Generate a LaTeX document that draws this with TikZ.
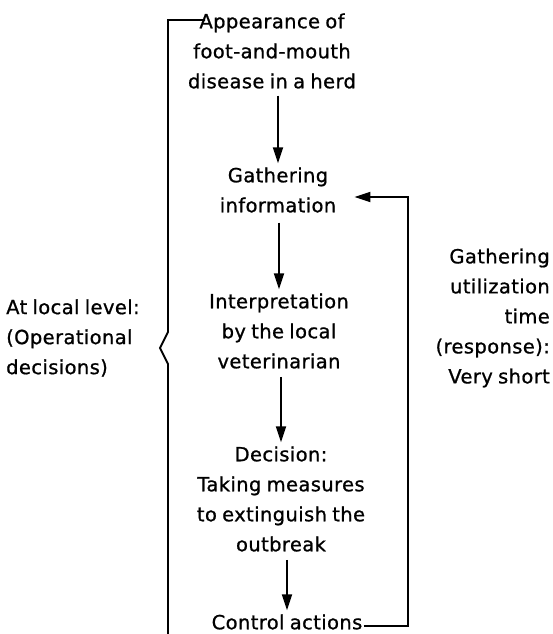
\documentclass[tikz,border=0pt]{standalone}
\usepackage{fontspec}
\setmainfont[WordSpace=0.8,LetterSpace=2,FakeBold=0.9]{DejaVu Sans}
\usetikzlibrary{arrows.meta}
\begin{document}
\begin{tikzpicture}[x=1pt,y=-1pt,
  txt/.style={font=\fontsize{19.5}{30}\selectfont, inner sep=0pt, align=center},
  link/.style={line width=1.8pt},
  arr/.style={link,-{Triangle[length=16pt,width=10pt]}}]
\useasboundingbox (0,0) rectangle (552,634);

% flow of the decision process
\node[txt] (app)    at (272,51)  {Appearance of\\foot-and-mouth\\disease in a herd};
\node[txt] (gath)   at (278,190) {Gathering\\information};
\node[txt] (interp) at (279,331) {Interpretation\\by the local\\veterinarian};
\node[txt] (dec)    at (281,499) {Decision:\\Taking measures\\to extinguish the\\outbreak};
\node[txt] (ctrl)   at (287,622) {Control actions};

% side labels
\node[txt, align=left, anchor=west]  (local) at (6,338)   {At local level:\\(Operational\\decisions)};
\node[txt, align=right, anchor=east] (resp)  at (550,318) {Gathering\\utilization\\time\\(response):\\Very short};

% vertical arrows
\draw[arr] ([yshift=-7pt]app.south -| gath.north) -- ([yshift=4pt]gath.north);
\draw[arr] ([yshift=-10pt]gath.south -| interp.north) -- ([yshift=4pt]interp.north);
\draw[arr] ([yshift=-8pt]interp.south -| dec.north) -- ([yshift=4pt]dec.north);
\draw[arr] ([yshift=-8pt]dec.south -| ctrl.north) -- ([yshift=4pt]ctrl.north);

% feedback loop
\coordinate (fbBot) at (408,626);
\coordinate (fbTop) at (408,197);
\draw[arr] ([xshift=1pt]ctrl.east |- fbBot) -- (fbBot) -- (fbTop) -- ([xshift=18pt]gath.east |- fbTop);

% bracket of the local level
\coordinate (brEnd) at (205,20);
\coordinate (brTop) at (168,20);
\coordinate (brTip) at (160,348);
\draw[link] (brEnd) -- (brTop) -- (168,332) -- (brTip) -- (168,364) -- (168,634);
\end{tikzpicture}
\end{document}
